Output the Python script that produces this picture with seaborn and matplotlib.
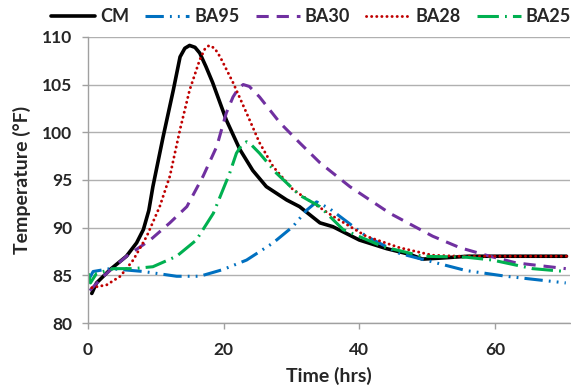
import matplotlib
matplotlib.use("Agg")
import matplotlib.pyplot as plt
import seaborn as sns
import pandas as pd

# ---- data ----
cm_x = [0.6, 1.3, 3.3, 5.7, 7.2, 8.2, 9.0, 9.6, 11.1, 12.6, 13.6, 14.3, 15.0, 15.8, 16.5, 17.4, 18.4, 20.4, 22.4, 24.3, 26.3, 29.3, 31.2, 34.2, 36.1, 40.0, 44.0, 47.4, 49.3, 51.8, 56.0, 60.0, 65.0, 70.5]
cm_y = [83.1, 84.2, 85.6, 87.0, 88.4, 89.8, 91.8, 94.3, 99.5, 104.4, 107.9, 108.8, 109.1, 108.9, 108.3, 106.9, 105.2, 101.3, 98.2, 96.0, 94.3, 92.9, 92.2, 90.5, 90.1, 88.7, 87.8, 87.2, 86.7, 86.8, 87.0, 87.0, 87.0, 87.0]

ba95_x = [0.1, 0.8, 3.3, 8.2, 13.1, 16.5, 19.9, 23.4, 27.3, 30.2, 32.2, 33.7, 35.6, 41.0, 45.9, 50.8, 55.7, 61.6, 70.4]
ba95_y = [84.5, 85.4, 85.7, 85.4, 84.9, 84.9, 85.6, 86.6, 88.4, 90.1, 91.8, 92.7, 92.0, 89.1, 87.3, 86.4, 85.5, 84.9, 84.2]

ba30_x = [0.3, 2.3, 5.7, 9.2, 12.1, 14.6, 17.0, 19.0, 20.4, 21.4, 22.2, 22.9, 23.8, 25.3, 28.3, 31.2, 34.2, 38.6, 44.5, 50.8, 54.8, 58.7, 63.1, 70.4]
ba30_y = [83.4, 84.9, 87.0, 88.7, 90.5, 92.2, 95.4, 98.5, 102.0, 103.7, 104.6, 105.0, 104.8, 103.7, 101.0, 98.9, 96.8, 94.3, 91.5, 89.1, 87.9, 87.1, 86.3, 85.7]

ba28_x = [0.6, 2.8, 4.8, 6.7, 8.7, 10.6, 12.1, 13.6, 15.0, 16.5, 17.3, 17.9, 18.7, 19.5, 21.4, 23.4, 25.3, 27.3, 30.2, 32.5, 36.1, 41.0, 45.9, 50.8, 55.0, 60.0, 65.0, 70.5]
ba28_y = [83.7, 84.0, 84.9, 86.6, 89.1, 92.2, 95.4, 100.3, 104.4, 107.6, 108.8, 109.1, 108.8, 107.9, 105.2, 102.0, 98.9, 96.4, 94.0, 92.9, 91.2, 89.1, 87.9, 87.1, 87.0, 87.0, 87.0, 87.0]

ba25_x = [0.1, 0.4, 1.3, 3.8, 6.7, 9.6, 13.1, 16.0, 18.5, 20.9, 21.9, 22.7, 23.4, 24.2, 25.3, 27.8, 31.2, 34.2, 37.6, 43.5, 49.3, 55.7, 59.6, 65.5, 70.4]
ba25_y = [85.2, 84.2, 85.2, 85.7, 85.7, 85.9, 87.0, 88.7, 91.5, 95.7, 97.8, 98.7, 99.0, 98.6, 97.8, 95.7, 93.4, 92.2, 89.8, 88.0, 87.0, 86.9, 86.6, 85.7, 85.4]

series_names = ["CM", "BA95", "BA30", "BA28", "BA25"]
series_x = [cm_x, ba95_x, ba30_x, ba28_x, ba25_x]
series_y = [cm_y, ba95_y, ba30_y, ba28_y, ba25_y]

x_ticks = [0, 20, 40, 60]
y_ticks = [80, 85, 90, 95, 100, 105, 110]

colors = ["#000000", "#0070C0", "#7030A0", "#C00000", "#00B050"]
styles = ["-", (0, (6, 2, 0.6, 2, 0.6, 2)), (0, (4, 2.6)), (0, (0.05, 1.7)), (0, (7, 2, 0.6, 2))]
widths = [2.6, 2.2, 2.2, 2.1, 2.2]

sns.set_style("white")
plt.rcParams["font.family"] = ["Lato", "DejaVu Sans"]

fig = plt.figure(figsize=(5.71, 3.92), dpi=100)
ax = fig.add_axes([0.1536, 0.176, 0.8444, 0.730])

for name, xs, ys, c, ls, lw in zip(series_names, series_x, series_y, colors, styles, widths):
    df = pd.DataFrame({"x": xs, "y": ys})
    sns.lineplot(data=df, x="x", y="y", ax=ax, color=c, linestyle=ls, linewidth=lw,
                 label=name, sort=False, estimator=None,
                 dash_capstyle="round" if name == "BA28" else "butt",
                 solid_joinstyle="round")

ax.set_xlim(0, 71)
ax.set_ylim(80, 110)
ax.set_xticks(x_ticks)
ax.set_yticks(y_ticks)
ax.set_xticklabels([str(t) for t in x_ticks], fontsize=12.5, fontweight="bold")
ax.set_yticklabels([str(t) for t in y_ticks], fontsize=12.5, fontweight="bold")
ax.yaxis.grid(True, color="#b0b0b0", linewidth=1.0)
ax.xaxis.grid(False)
ax.set_axisbelow(True)
for s in ["top", "right"]:
    ax.spines[s].set_visible(False)
for s in ["left", "bottom"]:
    ax.spines[s].set_color("#a0a0a0")
    ax.spines[s].set_linewidth(1.0)
ax.tick_params(axis="both", which="both", length=4, width=1, color="#a0a0a0", direction="out",
               bottom=True, left=True)
ax.tick_params(axis="x", pad=10)
ax.tick_params(axis="y", pad=7)
ax.set_xlabel("Time (hrs)", fontsize=14, fontweight="bold", labelpad=6)
ax.set_ylabel("Temperature (°F)", fontsize=14, fontweight="bold", labelpad=8)

handles, labels = ax.get_legend_handles_labels()
ax.get_legend().remove()
fig.legend(handles, labels, loc="center right", bbox_to_anchor=(1.0, 1 - 17 / 392), ncol=5,
           frameon=False, handlelength=2.44, columnspacing=0.89, handletextpad=0.28,
           borderaxespad=0.0, borderpad=0.0, prop={"weight": "bold", "size": 13})

fig.savefig("out.png", dpi=100)
